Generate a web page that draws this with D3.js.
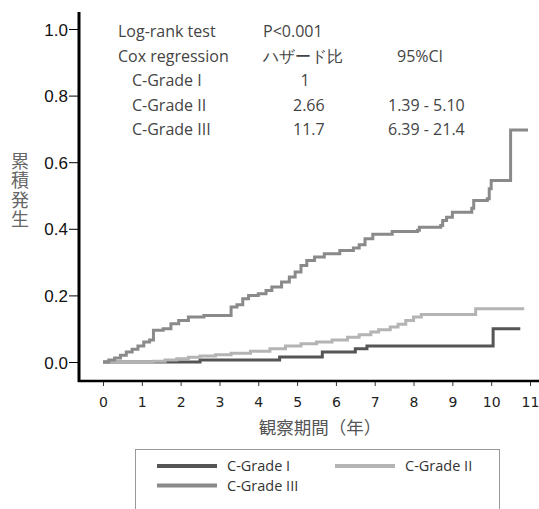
<!DOCTYPE html>
<html><head><meta charset="utf-8">
<script src="https://cdn.jsdelivr.net/npm/d3@7"></script>
<style>
body{margin:0;background:#fff;}
svg{display:block;}
</style></head>
<body>
<svg id="chart" width="539" height="509"></svg>
<script>
// ---- data ----
const seriesNames = ["C-Grade I", "C-Grade II", "C-Grade III"];
const grade1Times  = [0, 2.5, 4.55, 5.65, 6.5, 6.8, 10.05, 10.75];
const grade1Values = [0, 0.006, 0.015, 0.03, 0.04, 0.048, 0.1, 0.1];
const grade2Times  = [0, 1.3, 1.6, 1.9, 2.2, 2.5, 2.9, 3.3, 3.8, 4.3, 4.7, 5.1, 5.5, 5.9, 6.3, 6.6, 6.9, 7.1, 7.4, 7.6, 7.8, 8.0, 8.2, 9.6, 10.85];
const grade2Values = [0, 0.002, 0.006, 0.01, 0.014, 0.018, 0.022, 0.026, 0.032, 0.04, 0.048, 0.055, 0.06, 0.066, 0.074, 0.082, 0.09, 0.097, 0.105, 0.113, 0.125, 0.135, 0.143, 0.16, 0.16];
const grade3Times  = [0, 0.15, 0.3, 0.45, 0.6, 0.75, 0.9, 1.05, 1.2, 1.3, 1.55, 1.75, 1.95, 2.2, 2.6, 3.3, 3.45, 3.6, 3.75, 4.0, 4.2, 4.35, 4.6, 4.8, 4.95, 5.1, 5.25, 5.45, 5.7, 6.1, 6.45, 6.6, 6.75, 6.95, 7.45, 8.1, 8.15, 8.7, 8.75, 8.85, 9.0, 9.5, 9.55, 9.9, 9.95, 10.0, 10.5, 10.95];
const grade3Values = [0, 0.006, 0.012, 0.02, 0.03, 0.038, 0.048, 0.06, 0.066, 0.095, 0.1, 0.115, 0.125, 0.135, 0.14, 0.165, 0.172, 0.19, 0.2, 0.205, 0.215, 0.225, 0.24, 0.255, 0.27, 0.29, 0.305, 0.315, 0.325, 0.335, 0.342, 0.352, 0.37, 0.384, 0.392, 0.396, 0.405, 0.41, 0.425, 0.435, 0.45, 0.462, 0.485, 0.49, 0.52, 0.545, 0.697, 0.697];
const xTicks = [0,1,2,3,4,5,6,7,8,9,10,11];
const yTicks = [0, 0.2, 0.4, 0.6, 0.8, 1.0];
const seriesColors = ["#555555", "#b4b4b4", "#8a8a8a"];

const statsRows = [
  {label:"Log-rank test", indent:false, a:"P<0.001", b:""},
  {label:"Cox regression", indent:false, a:"ハザード比", b:"95%CI"},
  {label:"C-Grade I", indent:true, a:"1", b:""},
  {label:"C-Grade II", indent:true, a:"2.66", b:"1.39 - 5.10"},
  {label:"C-Grade III", indent:true, a:"11.7", b:"6.39 - 21.4"}
];

// ---- chart ----
const svg = d3.select("#chart");
const x = d3.scaleLinear().domain([0, 11]).range([103, 530]);
const y = d3.scaleLinear().domain([0, 1]).range([362, 29]);

const series = [
  {name: seriesNames[0], t: grade1Times, v: grade1Values, c: seriesColors[0]},
  {name: seriesNames[1], t: grade2Times, v: grade2Values, c: seriesColors[1]},
  {name: seriesNames[2], t: grade3Times, v: grade3Values, c: seriesColors[2]}
];

// y axis
const yAxis = d3.axisLeft(y).tickValues(yTicks).tickFormat(d3.format(".1f")).tickSize(10).tickPadding(1).tickSizeOuter(0);
const gy = svg.append("g").attr("transform", "translate(79,0)").call(yAxis);
gy.select(".domain").remove();
gy.selectAll(".tick line").attr("stroke", "#000").attr("stroke-width", 1);
gy.selectAll(".tick text").attr("font-family", "Liberation Sans, Arial, sans-serif").attr("font-size", 17).attr("fill", "#111").attr("dy", "0.36em");

// x axis
const xAxis = d3.axisBottom(x).tickValues(xTicks).tickFormat(d3.format("d")).tickSize(5).tickPadding(11).tickSizeOuter(0);
const gx = svg.append("g").attr("transform", "translate(0,381)").call(xAxis);
gx.select(".domain").remove();
gx.selectAll(".tick line").attr("stroke", "#333").attr("stroke-width", 1);
gx.selectAll(".tick text").attr("font-family", "DejaVu Sans, sans-serif").attr("font-size", 14).attr("fill", "#222");

// frame lines
svg.append("line").attr("x1", 79).attr("x2", 79).attr("y1", 12).attr("y2", 382).attr("stroke", "#000").attr("stroke-width", 3);
svg.append("line").attr("x1", 78).attr("x2", 539).attr("y1", 381).attr("y2", 381).attr("stroke", "#000").attr("stroke-width", 2.5);

// curves
const line = d3.line().x(d => x(d[0])).y(d => y(d[1])).curve(d3.curveStepAfter);
svg.append("g").selectAll("path").data(series).join("path")
  .attr("d", s => line(s.t.map((t, i) => [t, s.v[i]])))
  .attr("fill", "none").attr("stroke", s => s.c).attr("stroke-width", 3);

// axis titles
svg.append("text").attr("x", 320).attr("y", 434).attr("text-anchor", "middle")
  .attr("font-family", "Noto Sans CJK JP, sans-serif").attr("font-size", 17.5).attr("fill", "#555").text("観察期間（年）");
svg.append("text").attr("x", 20).attr("y", 152)
  .attr("writing-mode", "vertical-rl").style("text-orientation", "upright")
  .attr("letter-spacing", 1.5)
  .attr("font-family", "Noto Sans CJK JP, sans-serif").attr("font-size", 18).attr("fill", "#666").text("累積発生");

// stats text
const statFont = "Open Sans, sans-serif";
const st = svg.append("g").attr("font-family", statFont).attr("font-size", 16).attr("fill", "#444");
statsRows.forEach((r, i) => {
  const by = 37 + i * 24.5;
  st.append("text").attr("x", r.indent ? 132 : 118).attr("y", by).text(r.label);
  if (r.a) {
    if (i < 2) st.append("text").attr("x", 263).attr("y", by).text(r.a);
    else if (r.a === "1") st.append("text").attr("x", 305).attr("y", by).attr("text-anchor", "middle").text(r.a);
    else st.append("text").attr("x", 293).attr("y", by).text(r.a);
  }
  if (r.b) st.append("text").attr("x", i === 1 ? 397 : 388).attr("y", by).text(r.b);
});

// legend
svg.append("rect").attr("x", 135.5).attr("y", 449.5).attr("width", 364).attr("height", 70)
  .attr("fill", "none").attr("stroke", "#999").attr("stroke-width", 1);
const legPos = [[157, 466], [335, 466], [157, 485.5]];
const lg = svg.append("g").selectAll("g").data(series).join("g")
  .attr("transform", (s, i) => `translate(${legPos[i][0]},${legPos[i][1]})`);
lg.append("line").attr("x1", 0).attr("x2", 60).attr("stroke", s => s.c).attr("stroke-width", 4);
lg.append("text").attr("x", 70).attr("dy", "0.35em").attr("font-family", statFont).attr("font-size", 14.5).attr("fill", "#333").text(s => s.name);
</script>
</body></html>
